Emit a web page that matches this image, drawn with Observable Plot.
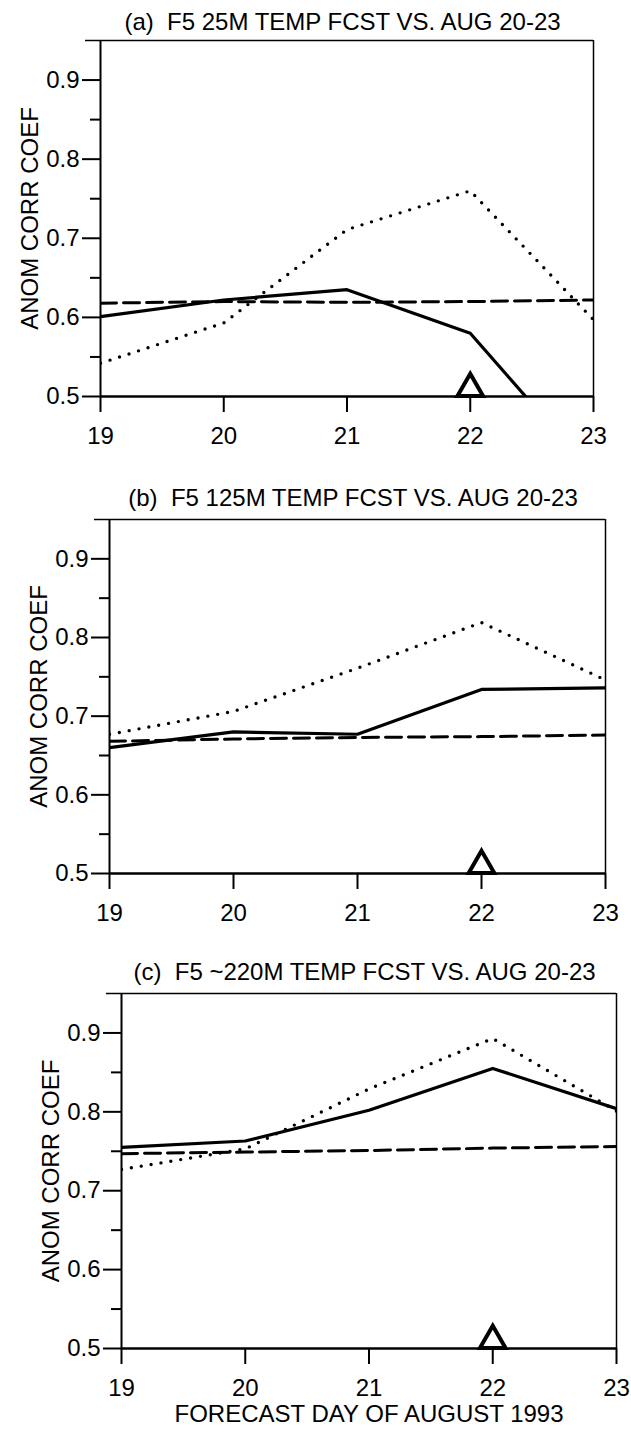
<!DOCTYPE html>
<html>
<head>
<meta charset="utf-8">
<script src="https://cdn.jsdelivr.net/npm/d3@7"></script>
<script src="https://cdn.jsdelivr.net/npm/@observablehq/plot@0.6"></script>
<style>
  html, body { margin: 0; padding: 0; background: #fff; }
  #root { position: relative; width: 631px; height: 1433px; overflow: hidden; background: #fff;
          font-family: "Liberation Sans", Arial, Helvetica, sans-serif; color: #000; }
  .title { position: absolute; font-size: 24px; line-height: 24px; white-space: pre; text-align: center; }
  .panel { position: absolute; left: 0; }
  svg { overflow: visible; }
</style>
</head>
<body>
<div id="root"></div>
<script>
// ---------------- data ----------------
const days = [19, 20, 21, 22, 23];
const yTicks = [0.5, 0.6, 0.7, 0.8, 0.9];
const yMinorTicks = [0.55, 0.65, 0.75, 0.85];
const yTop = 0.95;
const titles = [
  "(a)  F5 25M TEMP FCST VS. AUG 20-23",
  "(b)  F5 125M TEMP FCST VS. AUG 20-23",
  "(c)  F5 ~220M TEMP FCST VS. AUG 20-23"
];
const yLabel = "ANOM CORR COEF";
const xLabel = "FORECAST DAY OF AUGUST 1993";

// panel (a)
const solidA  = [0.601, 0.622, 0.635, 0.580, 0.402];
const dashedA = [0.618, 0.620, 0.619, 0.620, 0.622];
const dottedA = [0.542, 0.593, 0.711, 0.760, 0.597];
// panel (b)
const solidB  = [0.660, 0.680, 0.677, 0.734, 0.736];
const dashedB = [0.668, 0.671, 0.673, 0.674, 0.676];
const dottedB = [0.677, 0.706, 0.761, 0.819, 0.746];
// panel (c)
const solidC  = [0.755, 0.763, 0.802, 0.855, 0.804];
const dashedC = [0.747, 0.749, 0.751, 0.754, 0.756];
const dottedC = [0.727, 0.753, 0.829, 0.893, 0.801];

const markerDay = 22;
const markerValue = 0.5;

// ---------------- layout ----------------
const panels = [
  {title: titles[0], solid: solidA, dashed: dashedA, dotted: dottedA,
   top: 30, left: 100, right: 593, plotH: 356, mb: 50, titleTop: 10, xlab: false},
  {title: titles[1], solid: solidB, dashed: dashedB, dotted: dottedB,
   top: 509, left: 109, right: 605, plotH: 354, mb: 50, titleTop: 486, xlab: false},
  {title: titles[2], solid: solidC, dashed: dashedC, dotted: dottedC,
   top: 983, left: 121, right: 616, plotH: 355, mb: 80, titleTop: 960, xlab: true}
];

const root = document.getElementById("root");
const W = 631;
const mt = 10;

panels.forEach(p => {
  const rows = s => days.map((d, i) => ({day: d, v: s[i]}));
  const marks = [
    Plot.ruleY([yTop], {strokeWidth: 1.5}),
    Plot.ruleX([23], {strokeWidth: 1.5}),
    Plot.ruleX([19], {strokeWidth: 2}),
    Plot.ruleY([0.5], {strokeWidth: 2.5}),
    Plot.axisY({ticks: [yTop], tickSize: 15, tickFormat: () => "", label: null, strokeWidth: 1.5}),
    Plot.axisY({ticks: yTicks, tickSize: 18, tickPadding: 3, tickFormat: d3.format(".1f"),
                label: null, strokeWidth: 2, fontSize: 24}),
    Plot.axisY({ticks: yMinorTicks, tickSize: 10, tickFormat: () => "", label: null, strokeWidth: 2}),
    Plot.axisX({ticks: days, tickSize: 16, tickPadding: 14, tickFormat: d => String(d),
                label: null, strokeWidth: 2, fontSize: 24}),
    Plot.line(rows(p.dotted), {x: "day", y: "v", strokeWidth: 3.4, strokeDasharray: "0,10",
              strokeLinecap: "round", clip: true}),
    Plot.line(rows(p.dashed), {x: "day", y: "v", strokeWidth: 3, strokeDasharray: "16,7", clip: true}),
    Plot.line(rows(p.solid), {x: "day", y: "v", strokeWidth: 3.2, clip: true}),
    Plot.dot([{day: markerDay, v: markerValue}], {x: "day", y: "v", symbol: "triangle", r: 9.5,
             dy: -8, stroke: "#000", strokeWidth: 4, fill: "#fff"}),
    Plot.text([yLabel], {frameAnchor: "left", textAnchor: "middle", lineAnchor: "middle",
              dx: -70, rotate: -90, text: d => d, fontSize: 24})
  ];
  if (p.xlab) {
    marks.push(Plot.text([xLabel], {frameAnchor: "bottom", lineAnchor: "middle", dy: 66,
                                    text: d => d, fontSize: 24}));
  }
  const chart = Plot.plot({
    width: W,
    height: mt + p.plotH + p.mb,
    marginTop: mt,
    marginBottom: p.mb,
    marginLeft: p.left,
    marginRight: W - p.right,
    x: {domain: [19, 23]},
    y: {domain: [0.5, yTop]},
    style: {background: "#fff", color: "#000", fontFamily: "'Liberation Sans', Arial, Helvetica, sans-serif", fontSize: "24px", overflow: "visible"},
    marks
  });
  const wrap = document.createElement("div");
  wrap.className = "panel";
  wrap.style.top = p.top + "px";
  wrap.appendChild(chart);
  root.appendChild(wrap);

  const t = document.createElement("div");
  t.className = "title";
  t.textContent = p.title;
  t.style.top = p.titleTop + "px";
  t.style.left = (p.left - 60 - 4) + "px";
  t.style.width = (p.right - p.left + 120) + "px";
  root.appendChild(t);
});
</script>
</body>
</html>
